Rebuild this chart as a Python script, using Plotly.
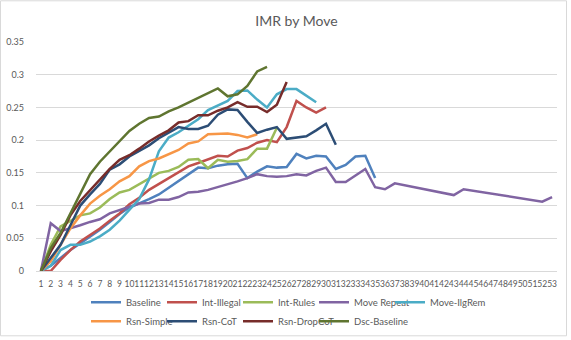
import plotly.graph_objects as go

# ---- data ----
baseline = [0, 0.008, 0.02, 0.032, 0.042, 0.052, 0.063, 0.075, 0.087, 0.097, 0.103, 0.11, 0.117, 0.127,
            0.138, 0.147, 0.158, 0.157, 0.161, 0.163, 0.164, 0.142, 0.152, 0.16, 0.158, 0.159, 0.179,
            0.172, 0.176, 0.175, 0.156, 0.162, 0.175, 0.176, 0.142]
int_illegal = [0, 0, 0.017, 0.032, 0.045, 0.055, 0.065, 0.077, 0.088, 0.102, 0.112, 0.124, 0.133, 0.143,
               0.151, 0.16, 0.165, 0.17, 0.176, 0.175, 0.184, 0.188, 0.196, 0.2, 0.197, 0.22, 0.26, 0.25,
               0.242, 0.25]
int_rules = [0, 0.04, 0.068, 0.077, 0.085, 0.088, 0.097, 0.11, 0.12, 0.124, 0.133, 0.141, 0.15, 0.153,
             0.159, 0.17, 0.171, 0.157, 0.17, 0.167, 0.168, 0.171, 0.187, 0.187, 0.219]
move_repeat = [0, 0.073, 0.061, 0.065, 0.07, 0.075, 0.079, 0.088, 0.093, 0.097, 0.103, 0.104, 0.109, 0.109,
               0.113, 0.12, 0.121, 0.124, 0.128, 0.132, 0.137, 0.142, 0.148, 0.145, 0.144, 0.145, 0.148,
               0.146, 0.153, 0.158, 0.136, 0.136, 0.146, 0.156, 0.128, 0.125, 0.134, 0.131, 0.128, 0.125,
               0.122, 0.119, 0.116, 0.125, 0.1226, 0.1203, 0.118, 0.1155, 0.113, 0.111, 0.108, 0.106, 0.113]
move_ilgrem = [0, 0.008, 0.032, 0.04, 0.04, 0.045, 0.053, 0.063, 0.077, 0.093, 0.11, 0.14, 0.183, 0.204,
               0.212, 0.222, 0.232, 0.246, 0.253, 0.26, 0.275, 0.276, 0.262, 0.25, 0.27, 0.278, 0.278,
               0.268, 0.258]
rsn_simple = [0, 0.015, 0.04, 0.065, 0.085, 0.103, 0.115, 0.125, 0.137, 0.145, 0.16, 0.168, 0.172, 0.178,
              0.185, 0.195, 0.198, 0.209, 0.21, 0.21, 0.208, 0.204, 0.209]
rsn_cot = [0, 0.02, 0.04, 0.07, 0.1, 0.117, 0.133, 0.155, 0.163, 0.175, 0.183, 0.192, 0.203, 0.212, 0.22,
           0.217, 0.217, 0.222, 0.239, 0.247, 0.246, 0.228, 0.211, 0.216, 0.22, 0.202, 0.204, 0.206,
           0.215, 0.225, 0.193]
rsn_dropcot = [0, 0.03, 0.055, 0.085, 0.107, 0.123, 0.14, 0.156, 0.17, 0.177, 0.187, 0.198, 0.207, 0.215,
               0.227, 0.229, 0.238, 0.238, 0.245, 0.25, 0.258, 0.251, 0.251, 0.243, 0.254, 0.289]
dsc_baseline = [0, 0.035, 0.058, 0.088, 0.12, 0.148, 0.167, 0.183, 0.198, 0.214, 0.225, 0.234, 0.236,
                0.244, 0.25, 0.257, 0.265, 0.272, 0.279, 0.267, 0.27, 0.283, 0.305, 0.312]

series_names = ["Baseline", "Int-Illegal", "Int-Rules", "Move Repeat", "Move-IlgRem",
                "Rsn-Simple", "Rsn-CoT", "Rsn-DropCoT", "Dsc-Baseline"]
series_values = [baseline, int_illegal, int_rules, move_repeat, move_ilgrem,
                 rsn_simple, rsn_cot, rsn_dropcot, dsc_baseline]
colors = ["#4F81BD", "#C0504D", "#9BBB59", "#8064A2", "#4BACC6",
          "#F79646", "#2C4D75", "#772C2A", "#5F7530"]
categories = list(range(1, 54))
y_ticks = [0, 0.05, 0.1, 0.15, 0.2, 0.25, 0.3, 0.35]

# ---- layout geometry (pixels) ----
W, H = 571, 340
L, R, T, B = 36, 14, 41.7, 69.3
pw, ph = W - L - R, H - T - B

def px(x):
    return (x - L) / pw

def py(y):
    return (H - B - y) / ph

# legend laid out in 5 columns x 2 rows (one small vertical legend per column)
legend_cols_px = [99, 175, 251, 327, 403]
legend_ids = ["legend", "legend2", "legend3", "legend4", "legend5"]

fig = go.Figure()
for i, (name, vals, col) in enumerate(zip(series_names, series_values, colors)):
    fig.add_trace(go.Scatter(
        x=categories[:len(vals)], y=vals, name=name, mode="lines",
        line=dict(color=col, width=2.5),
        legend=legend_ids[i % 5],
    ))

font_family = "Lato, 'Open Sans', sans-serif"
grey = "#595959"

legends = {}
for lid, cx in zip(legend_ids, legend_cols_px):
    legends[lid] = dict(
        orientation="v", xanchor="left", yanchor="top",
        x=px(cx - 13), y=py(287.5),
        font=dict(family=font_family, size=9.5, color=grey),
        bgcolor="rgba(0,0,0,0)", borderwidth=0, tracegroupgap=0,
        itemwidth=30,
    )

fig.update_layout(
    width=W, height=H,
    margin=dict(l=L, r=R, t=T, b=B, pad=0, autoexpand=False),
    paper_bgcolor="white", plot_bgcolor="white",
    font=dict(family=font_family, color=grey),
    title=dict(text="IMR by Move", x=0.5, xref="paper", xanchor="center",
               y=1 - 21 / H, yref="container", yanchor="middle",
               font=dict(family=font_family, size=14, color=grey)),
    showlegend=True,
    **legends,
    xaxis=dict(
        range=[0.5, 53.5], tickmode="array", tickvals=categories,
        ticktext=[str(c) for c in categories], tickangle=0,
        showgrid=False, zeroline=False, showline=True, linecolor="#D9D9D9", linewidth=1,
        ticks="", tickfont=dict(family=font_family, size=8.5, color=grey),
        ticklabelstandoff=5,
    ),
    yaxis=dict(
        range=[0, 0.35], tickmode="array", tickvals=y_ticks,
        ticktext=["0", "0.05", "0.1", "0.15", "0.2", "0.25", "0.3", "0.35"],
        showgrid=True, gridcolor="#D9D9D9", gridwidth=1, zeroline=False,
        showline=False, ticks="", tickfont=dict(family=font_family, size=9, color=grey),
        ticklabelstandoff=11,
    ),
    shapes=[dict(type="rect", xref="paper", yref="paper",
                 x0=px(0.5), x1=px(566.5), y0=py(335.5), y1=py(0.5),
                 line=dict(color="#D9D9D9", width=1), fillcolor="rgba(0,0,0,0)", layer="below")],
)

fig.write_html("out.html")
